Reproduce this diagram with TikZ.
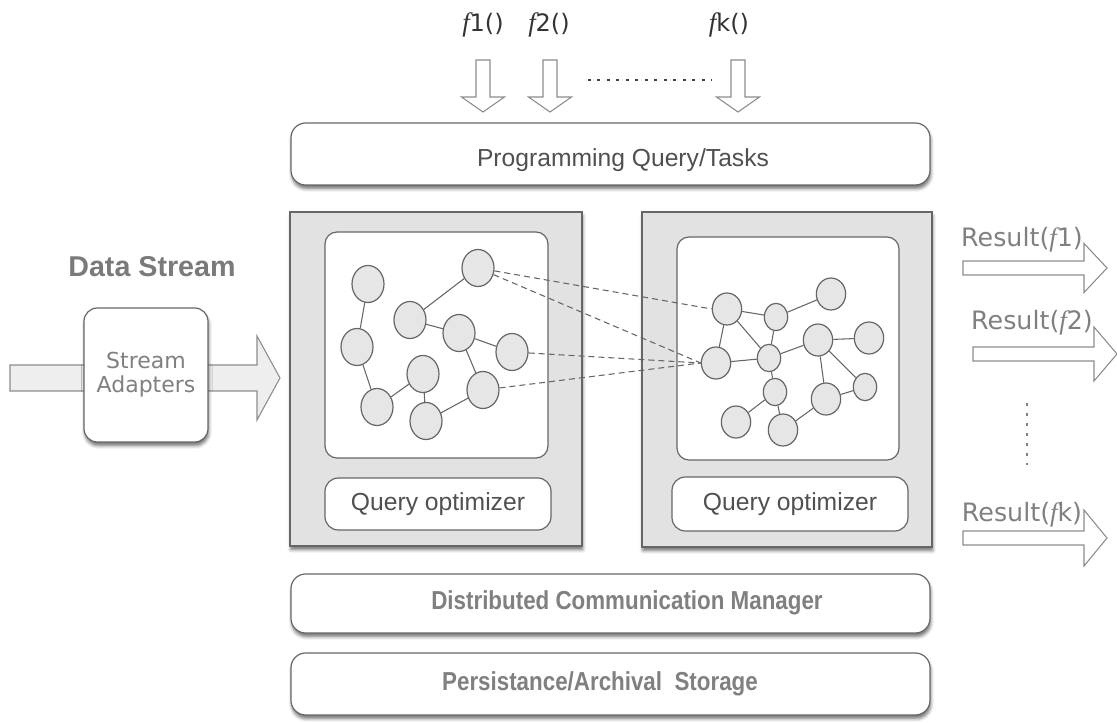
\documentclass[tikz,border=0pt]{standalone}
\usepackage{fontspec}
\setmainfont{Liberation Sans}
\newfontfamily\verdana{DejaVu Sans}
\newfontfamily\fserif{Liberation Serif}
\newfontfamily\narrow[FakeStretch=0.86]{Liberation Sans}

\usetikzlibrary{shapes.geometric,shadows.blur}

\definecolor{linegray}{HTML}{666666}
\definecolor{panelgray}{HTML}{E2E2E2}
\definecolor{nodegray}{HTML}{E6E6E6}
\definecolor{textdark}{HTML}{505050}
\definecolor{textlight}{HTML}{808080}
\definecolor{arrowline}{HTML}{8C8C8C}
\definecolor{arrowfill}{HTML}{EEEEEE}

\newcommand{\fn}[1]{{\fserif\itshape\fontsize{20}{20}\selectfont f}#1}
% hollow arrows: [style] x, y, length, head length, shaft half width, head half width
\newcommand{\fatright}[7][]{%
  \draw[fatarrow,#1] (#2,#3) ++(0,-#6) -- ++(#4-#5,0) -- ++(0,#6-#7) -- ++(#5,#7)
    -- ++(-#5,#7) -- ++(0,#6-#7) -- ++(#5-#4,0) -- cycle;}
\newcommand{\fatdown}[7][]{%
  \draw[fatarrow,#1] (#2-#6,#3) -- ++(0,#4-#5) -- ++(#6-#7,0) -- ++(#7,#5)
    -- ++(#7,-#5) -- ++(#6-#7,0) -- ++(0,#5-#4) -- cycle;}

\tikzset{
  boxshadow/.style={blur shadow={shadow xshift=0.6pt, shadow yshift=-2.8pt,
      shadow blur radius=2.4pt, shadow opacity=55}},
  box/.style={draw=linegray, line width=0.9pt, fill=white, rounded corners=10pt, inner sep=0pt},
  panel/.style={draw=linegray, line width=0.9pt, fill=panelgray, inner sep=0pt, boxshadow},
  fatarrow/.style={draw=arrowline, line width=0.8pt, fill=white},
  vtx/.style={ellipse, draw=linegray, line width=0.9pt, fill=nodegray, inner sep=0pt,
      minimum width=24pt, minimum height=27.75pt},
  mvtx/.style={vtx, minimum width=22pt, minimum height=24pt},
  svtx/.style={vtx, minimum width=17.5pt, minimum height=20.5pt},
  edge/.style={draw=linegray, line width=0.8pt},
  link/.style={draw=linegray, line width=0.8pt, dash pattern=on 4.5pt off 3pt},
  label/.style={inner sep=0pt, text=textdark, font=\fontsize{18.5}{22}\selectfont},
  tag/.style={inner sep=0pt, text=textlight, font=\narrow\bfseries\fontsize{19.5}{22}\selectfont},
}

\begin{document}
\begin{tikzpicture}[x=0.75pt, y=-0.75pt]
    \useasboundingbox (0,0) rectangle (1117,723);

    % Functions coming in
    \node[inner sep=0pt, font=\verdana\fontsize{18}{20}\selectfont, text=black!80] (f1) at (483,25) {\fn{1}()};
    \node[inner sep=0pt, font=\verdana\fontsize{18}{20}\selectfont, text=black!80] (f2) at (549,25) {\fn{2}()};
    \node[inner sep=0pt, font=\verdana\fontsize{18}{20}\selectfont, text=black!80] (fk) at (729,25) {\fn{k}()};
    \fatdown{483}{60}{52}{15}{7}{21.5}
    \fatdown{550}{60}{52}{15}{7}{21.5}
    \fatdown{738}{60}{52}{15}{7}{21.5}
    \draw[black!75, line width=2.2pt, dash pattern=on 2.2pt off 4.9pt] (588,80) -- (712,80);

    % Programming layer
    \node[box, boxshadow, rounded corners=11pt, minimum width=479.25pt, minimum height=46.5pt] (prog) at (610.5,154) {};
    \node[label] (progtxt) at (623,160) {Programming Query/Tasks};

    % Data stream input
    \node[inner sep=0pt, text=textlight!95!black, font=\bfseries\fontsize{21.5}{24}\selectfont] (stream) at (152,267) {Data Stream};
    \fatright[fill=arrowfill]{10}{378}{270}{23}{13}{42}
    \node[box, boxshadow, minimum width=93pt, minimum height=100.5pt, align=center,
      text=textlight, font=\verdana\fontsize{16.5}{18}\selectfont] (adapt) at (146,375) {Stream\\Adapters};

    % Two processing nodes
    \node[panel, minimum width=219pt, minimum height=250.5pt] (panL) at (436,379) {};
    \node[panel, minimum width=217.5pt, minimum height=251.25pt] (panR) at (787,379.5) {};
    \node[box, rounded corners=9pt, minimum width=167.25pt, minimum height=169.5pt] (graphL) at (436.5,345) {};
    \node[box, rounded corners=9pt, minimum width=166.5pt, minimum height=167.25pt] (graphR) at (788,348.5) {};
    \node[box, minimum width=169.5pt, minimum height=39pt] (optL) at (438,504) {};
    \node[box, minimum width=177pt, minimum height=40.5pt] (optR) at (790,504) {};
    \node[label] at (optL) {Query optimizer};
    \node[label] at (optR) {Query optimizer};

    % Graph on the left node
    \node[vtx] (a) at (368,284) {};
    \node[vtx] (b) at (357,347) {};
    \node[vtx] (c) at (377,407) {};
    \node[vtx] (d) at (410,320) {};
    \node[vtx] (e) at (459,333) {};
    \node[vtx] (f) at (478,268) {};
    \node[vtx] (g) at (512,352) {};
    \node[vtx] (h) at (423,374) {};
    \node[vtx] (i) at (426,421) {};
    \node[vtx] (j) at (483,390) {};
    \draw[edge] (a) -- (b) (b) -- (c) (c) -- (h) (h) -- (i) (i) -- (j)
                (j) -- (e) (e) -- (g) (e) -- (d) (d) -- (f);

    % Graph on the right node
    \node[mvtx] (r1) at (727,309) {};
    \node[mvtx] (r2) at (716,363) {};
    \node[svtx] (r3) at (776,317) {};
    \node[mvtx] (r4) at (831,294) {};
    \node[svtx] (r5) at (769,358) {};
    \node[mvtx] (r6) at (818,340) {};
    \node[mvtx] (r7) at (869,338) {};
    \node[svtx] (r8) at (775,392) {};
    \node[mvtx] (r9) at (826,399) {};
    \node[svtx] (r10) at (865,387) {};
    \node[mvtx] (r11) at (736,422) {};
    \node[mvtx] (r12) at (783,430) {};
    \draw[edge] (r1) -- (r3) (r1) -- (r2) (r1) -- (r5) (r2) -- (r5) (r3) -- (r4)
                (r3) -- (r5) (r5) -- (r6) (r6) -- (r7) (r6) -- (r9) (r6) -- (r10)
                (r9) -- (r10) (r5) -- (r8) (r8) -- (r11) (r8) -- (r12) (r12) -- (r9);

    % Links between the two graphs
    \draw[link] (f) -- (r1.west);
    \draw[link] (f) -- (r2.west);
    \draw[link] (g) -- (r2.west);
    \draw[link] (j) -- (r2.west);

    % Results
    \node[inner sep=0pt, text=textlight, font=\verdana\fontsize{19}{21}\selectfont] (res1) at (1022,240) {Result(\fn{1})};
    \node[inner sep=0pt, text=textlight, font=\verdana\fontsize{19}{21}\selectfont] (res2) at (1032,323) {Result(\fn{2})};
    \node[inner sep=0pt, text=textlight, font=\verdana\fontsize{19}{21}\selectfont] (resk) at (1022,515) {Result(\fn{k})};
    \fatright{963}{268}{144}{23}{7}{24.5}
    \fatright{973}{354}{144}{23}{7}{27}
    \fatright{963}{538}{144}{23}{7}{28}
    \draw[textlight, line width=2.2pt, dash pattern=on 2.2pt off 5.3pt] (1027,403) -- (1027,465);

    % Lower layers
    \node[box, boxshadow, rounded corners=11pt, minimum width=479.25pt, minimum height=44.25pt] (comm) at (610.5,603.5) {};
    \node[tag] (commtxt) at (627,603) {Distributed Communication Manager};
    \node[box, boxshadow, rounded corners=11pt, minimum width=479.25pt, minimum height=46.5pt] (store) at (610.5,684) {};
    \node[tag] (storetxt) at (600,684) {Persistance/Archival\ \ Storage};
\end{tikzpicture}
\end{document}
